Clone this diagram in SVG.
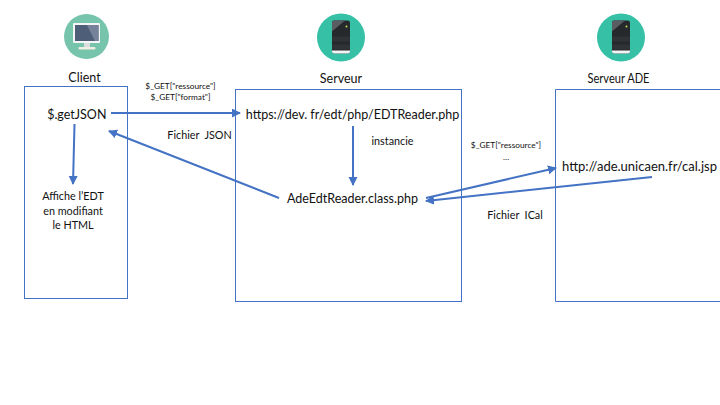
<svg xmlns="http://www.w3.org/2000/svg" width="720" height="405" viewBox="0 0 720 405">
<style>
text{font-family:"Lato","Open Sans",sans-serif;fill:#111;text-anchor:middle;white-space:pre}
.l{font-size:12.5px}.m{font-size:10.800px}.s{font-size:8.300px}
.box{fill:none;stroke:#4472c4;stroke-width:1}
.c{stroke:#4472c4;stroke-width:2;fill:none;marker-end:url(#a)}
</style>
<defs>
<marker id="a" markerUnits="userSpaceOnUse" markerWidth="10" markerHeight="10" refX="8" refY="4.500" orient="auto"><path d="M0 0L9 4.500L0 9Z" fill="#4472c4"/></marker>
<g id="phone">
<circle cx="0" cy="0" r="24" fill="#36c0a6"/>
<path d="M-9-15a2 2 0 0 1 2-2H7a2 2 0 0 1 2 2V14a2 2 0 0 1-2 2H-7a2 2 0 0 1-2-2Z" fill="#26292c"/>
<path d="M-9 -1H9V4H-9ZM-9 7H9V12H-9Z" fill="#303336"/>
<path d="M-9 13H9V14a2 2 0 0 1-2 2H-7a2 2 0 0 1-2-2Z" fill="#f4f4f4"/>
<path d="M-9-15a2 2 0 0 1 2-2H4L-9-6Z" fill="#5a5d61"/>
<circle cx="5.500" cy="-11" r="1" fill="#c8e04a"/>
</g>
</defs>
<g id="client-icon">
<circle cx="86.500" cy="36.500" r="22.500" fill="#77c4ad"/>
<rect x="73" y="23" width="27" height="20" rx="1" fill="#f5f5f5"/>
<rect x="75" y="25" width="23.500" height="16" fill="#4e5d78"/>
<path d="M87 25H98.500V41H95Z" fill="#76829a"/>
<rect x="84" y="43" width="6" height="4" fill="#ddd"/>
<rect x="78.500" y="47" width="17" height="2.500" rx="1" fill="#f1ede0"/>
</g>
<g id="client">
<text class="l" x="84.500" y="82">Client</text>
<rect class="box" x="24.500" y="86.500" width="103" height="212"/>
<text class="l" x="76.800" y="119">$.getJSON</text>
<text class="m" x="73" y="200">Affiche l’EDT</text>
<text class="m" x="73" y="215">en modifiant</text>
<text class="m" x="73" y="229">le HTML</text>
</g>
<g id="serveur-icon"><use href="#phone" x="341" y="37.500"/></g>
<g id="serveur">
<text class="l" x="341" y="83">Serveur</text>
<rect class="box" x="235.500" y="89.500" width="226" height="212"/>
<text class="l" x="352.500" y="119">https://dev. fr/edt/php/EDTReader.php</text>
<text class="m" x="392.500" y="145">instancie</text>
<text class="l" x="352.500" y="203">AdeEdtReader.class.php</text>
</g>
<g id="ade-icon"><use href="#phone" x="621" y="37.500"/></g>
<g id="ade">
<text class="l" x="618.500" y="83" textLength="62" lengthAdjust="spacingAndGlyphs">Serveur ADE</text>
<path class="box" d="M720 89.500H555.500V301.500H720"/>
<text x="639.500" y="171" style="font-size:13px">http://ade.unicaen.fr/cal.jsp</text>
</g>
<g id="connectors">
<path class="c" d="M111 113H240"/>
<path class="c" d="M74.500 124L73 184"/>
<path class="c" d="M279 198L109 131"/>
<path class="c" d="M353 126V185"/>
<path class="c" d="M426 198L556 168"/>
<path class="c" d="M652 177L426 201"/>
</g>
<g id="labels">
<text class="s" x="180.500" y="89">$_GET["ressource"]</text>
<text class="s" x="180.500" y="100">$_GET["format"]</text>
<text class="m" x="199.500" y="139">Fichier  JSON</text>
<text class="s" x="506" y="148">$_GET["ressource"]</text>
<text class="s" x="506" y="160">…</text>
<text class="m" x="515" y="219">Fichier  ICal</text>
</g>
</svg>
